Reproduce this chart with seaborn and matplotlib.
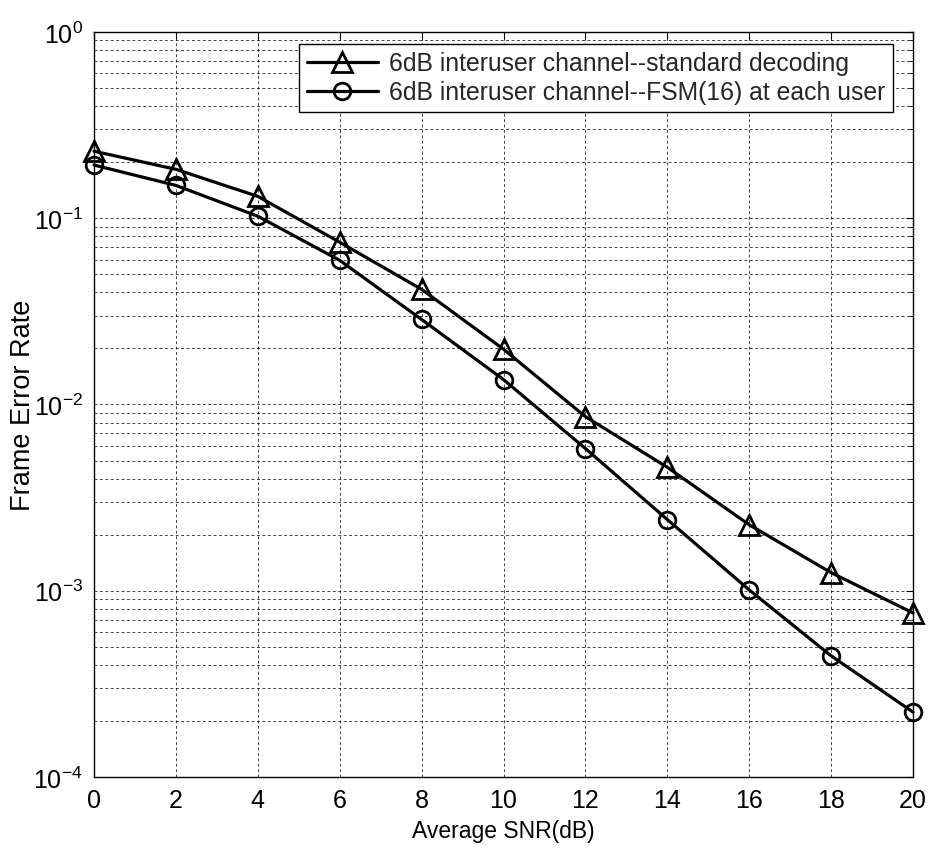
import numpy as np
import pandas as pd
import matplotlib
matplotlib.use("Agg")
import matplotlib.pyplot as plt
import seaborn as sns
from matplotlib.ticker import LogLocator, NullFormatter

# Frame error rate versus average SNR for two decoding schemes
snr_db = [0, 2, 4, 6, 8, 10, 12, 14, 16, 18, 20]
fer_standard = [0.229, 0.183, 0.131, 0.0743, 0.0415, 0.0198, 0.0086, 0.0046, 0.00226, 0.00125, 0.00076]
fer_fsm16 = [0.193, 0.150, 0.1025, 0.0594, 0.0286, 0.0136, 0.0058, 0.00241, 0.00101, 0.000447, 0.000223]
series_labels = ["6dB interuser channel--standard decoding",
                 "6dB interuser channel--FSM(16) at each user"]
x_ticks = [0, 2, 4, 6, 8, 10, 12, 14, 16, 18, 20]

sns.set_theme(style="white")
plt.rcParams["font.family"] = ["Liberation Sans", "DejaVu Sans"]
plt.rcParams["mathtext.fontset"] = "custom"
plt.rcParams["mathtext.rm"] = "Liberation Sans"
plt.rcParams["mathtext.it"] = "Liberation Sans"
plt.rcParams["mathtext.default"] = "regular"

fig = plt.figure(figsize=(9.33, 8.54), dpi=100)
ax = fig.add_axes([0.1008, 0.089, 0.8778, 0.8724])

df = pd.DataFrame({
    "snr": snr_db * 2,
    "fer": fer_standard + fer_fsm16,
    "scheme": [series_labels[0]] * len(snr_db) + [series_labels[1]] * len(snr_db),
})

line_kw = dict(color="black", linewidth=2.3, markerfacecolor="none",
               markeredgecolor="black", markeredgewidth=2.0, clip_on=False)
sns.lineplot(data=df[df.scheme == series_labels[0]], x="snr", y="fer", ax=ax,
             marker="^", markersize=14, label=series_labels[0], **line_kw)
sns.lineplot(data=df[df.scheme == series_labels[1]], x="snr", y="fer", ax=ax,
             marker="o", markersize=12, label=series_labels[1], **line_kw)

ax.set_yscale("log")
ax.set_ylim(1e-4, 1)
ax.set_xlim(0, 20)
ax.set_xticks(x_ticks)
ax.yaxis.set_major_locator(LogLocator(base=10, numticks=10))
ax.yaxis.set_minor_locator(LogLocator(base=10, subs=np.arange(2, 10), numticks=10))
ax.yaxis.set_minor_formatter(NullFormatter())

grid_style = dict(color="black", linestyle=(0, (3.5, 3)), linewidth=0.6, alpha=0.85)
ax.grid(True, which="major", axis="both", **grid_style)
ax.grid(True, which="minor", axis="y", **grid_style)

ax.tick_params(which="both", direction="in", top=True, right=True,
               labelsize=18, colors="black", pad=8)
ax.tick_params(which="major", length=5, width=0.8)
ax.tick_params(which="minor", length=3, width=0.6)
for spine in ax.spines.values():
    spine.set_color("black")
    spine.set_linewidth(1.0)

ax.set_xlabel("Average SNR(dB)", fontsize=16.5, color="black", labelpad=5)
ax.set_ylabel("Frame Error Rate", fontsize=19.5, color="black")
ax.yaxis.set_label_coords(-0.071, 0.5)

leg = ax.legend(loc="upper right", bbox_to_anchor=(0.9756, 0.9839), borderaxespad=0,
                fontsize=17.8, frameon=True, fancybox=False, framealpha=1,
                edgecolor="black", handlelength=2.9, handletextpad=0.45,
                borderpad=0.3, labelspacing=0.2)
leg.get_frame().set_linewidth(1.0)

fig.savefig("out.png", dpi=100, facecolor="white")
